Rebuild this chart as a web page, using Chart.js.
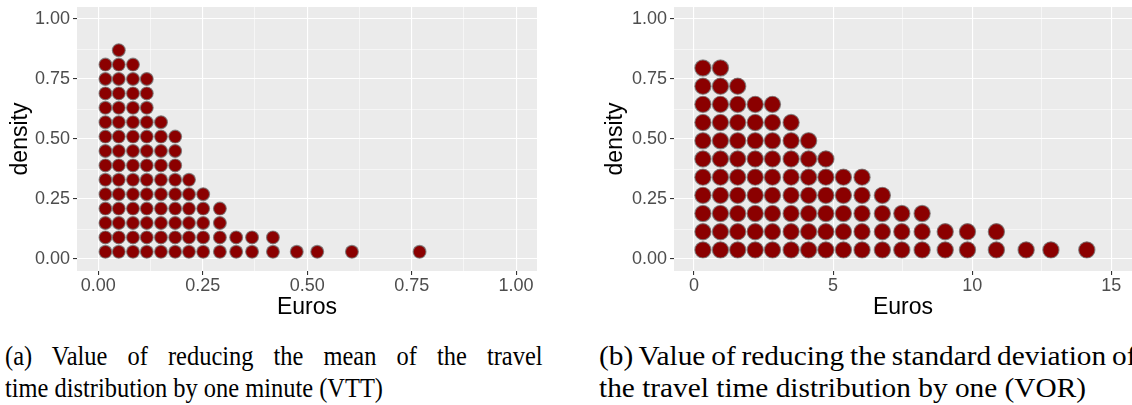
<!DOCTYPE html>
<html>
<head>
<meta charset="utf-8">
<title>VTT / VOR dotplots</title>
<script src="https://cdn.jsdelivr.net/npm/chart.js@4/dist/chart.umd.min.js"></script>
<style>
    html, body { margin: 0; padding: 0; background: #fff; }
    body { width: 1132px; height: 405px; position: relative; overflow: hidden; }
    .panel { position: absolute; top: 0; height: 330px; }
    #panelA { left: 0; width: 560px; }
    #panelB { left: 560px; width: 572px; }
    .cap {
        position: absolute;
        font-family: "Liberation Serif", "DejaVu Serif", serif;
        font-size: 27px;
        line-height: 27px;
        color: #000;
        white-space: nowrap;
        transform-origin: 0 50%;
    }
</style>
</head>
<body>
<div class="panel" id="panelA"><canvas id="chartVTT"></canvas></div>
<div class="panel" id="panelB"><canvas id="chartVOR"></canvas></div>
<div id="captions"></div>

<script>
// ── Data ──────────────────────────────────────────────────────────────────
const densityTicks  = [0, 0.25, 0.5, 0.75, 1];
const densityLabels = ['0.00', '0.25', '0.50', '0.75', '1.00'];

// (a) VTT — bin centres (euros) and number of stacked dots per bin
const vttTicks  = [0, 0.25, 0.5, 0.75, 1];
const vttLabels = ['0.00', '0.25', '0.50', '0.75', '1.00'];
const vttEuros  = [0.017, 0.049, 0.083, 0.116, 0.150, 0.184, 0.217, 0.251, 0.291, 0.330, 0.368, 0.418, 0.475, 0.524, 0.607, 0.769];
const vttCounts = [14, 15, 14, 13, 10, 9, 6, 5, 4, 2, 2, 2, 1, 1, 1, 1];
const vttStack  = 0.06;      // density height of one stacked dot

// (b) VOR
const vorTicks  = [0, 5, 10, 15];
const vorLabels = ['0', '5', '10', '15'];
const vorEuros  = [0.32, 0.95, 1.57, 2.20, 2.82, 3.49, 4.12, 4.74, 5.37, 6.04, 6.77, 7.47, 8.20, 9.03, 9.83, 10.87, 11.94, 12.83, 14.12];
const vorCounts = [11, 11, 10, 9, 9, 8, 7, 6, 5, 5, 4, 3, 3, 2, 2, 2, 1, 1, 1];
const vorStack  = 0.0758;

// sub-captions: first line justified to the column, last line at natural width
const captions = [
    { left: 5,   first: '(a) Value of reducing the mean of the travel',
                 last:  'time distribution by one minute (VTT)',      lastWidth: 378 },
    { left: 599, first: '(b) Value of reducing the standard deviation of',
                 last:  'the travel time distribution by one (VOR)',  lastWidth: 487 }
];
const captionColumn = 538;
const captionTops   = [343, 375];

(function () {
    // ── Helpers ───────────────────────────────────────────────────────────
    const stackDots = (xs, counts, step) => {
        const pts = [];
        xs.forEach((x, i) => {
            for (let k = 0; k < counts[i]; k++) pts.push({ x: x, y: (k + 0.5) * step });
        });
        return pts;
    };

    const panelBg = {
        id: 'panelBg',
        beforeDraw(chart) {
            const a = chart.chartArea, c = chart.ctx;
            c.save();
            c.fillStyle = '#EBEBEB';
            c.fillRect(a.left, a.top, a.right - a.left, a.bottom - a.top);
            c.restore();
        }
    };

    const tickFont  = { family: '"Liberation Sans", Arial, sans-serif', size: 18 };
    const titleFont = { family: '"Liberation Sans", Arial, sans-serif', size: 23 };

    // major ticks carry labels; minor ones sit half way between them
    function ggScale(min, max, major, labels, title, fitSize, titlePad, horizontal) {
        const minor = [];
        for (let i = 0; i < major.length - 1; i++) minor.push((major[i] + major[i + 1]) / 2);
        const all = major.concat(minor).filter(v => v >= min && v <= max).sort((a, b) => a - b);
        const isMajor = v => major.indexOf(v) !== -1;
        return {
            type: 'linear',
            min: min,
            max: max,
            afterBuildTicks: s => { s.ticks = all.map(v => ({ value: v })); },
            afterFit: s => {
                if (horizontal) s.height = fitSize; else s.width = fitSize;
                s.paddingLeft = s.paddingRight = s.paddingTop = s.paddingBottom = 0;
            },
            border: { display: false },
            grid: {
                color: '#FFFFFF',
                lineWidth: ctx => (ctx.tick && isMajor(ctx.tick.value)) ? 1.1 : 0.55,
                drawTicks: true,
                tickLength: 4,
                tickWidth: 1.1,
                tickColor: ctx => (ctx.tick && isMajor(ctx.tick.value)) ? '#333333' : 'rgba(0,0,0,0)'
            },
            ticks: {
                autoSkip: false,
                maxRotation: 0,
                padding: horizontal ? 0 : 3,
                color: '#4D4D4D',
                font: tickFont,
                callback: v => { const i = major.indexOf(v); return i === -1 ? '' : labels[i]; }
            },
            title: {
                display: true,
                text: title,
                color: '#000000',
                font: titleFont,
                padding: horizontal ? { top: 0, bottom: titlePad } : { top: titlePad, bottom: 0 }
            }
        };
    }

    function dotChart(canvasId, pts, radius, xMin, xMax, xTicks, xLabels, yAxisW, yTitlePad, padRight) {
        return new Chart(document.getElementById(canvasId), {
            type: 'scatter',
            data: {
                datasets: [{
                    data: pts,
                    backgroundColor: '#8B0000',
                    borderColor: 'rgba(115,115,115,0.75)',
                    borderWidth: 1.2,
                    pointRadius: radius,
                    pointHoverRadius: radius
                }]
            },
            options: {
                responsive: true,
                maintainAspectRatio: false,
                animation: false,
                layout: { autoPadding: false, padding: { left: 0, top: 7, right: padRight, bottom: 0 } },
                plugins: { legend: { display: false }, tooltip: { enabled: false } },
                scales: {
                    x: ggScale(xMin, xMax, xTicks, xLabels, 'Euros', 59, 8.8, true),
                    y: ggScale(-0.05, 1.05, densityTicks, densityLabels, 'density', yAxisW, yTitlePad, false)
                }
            },
            plugins: [panelBg]
        });
    }

    // ── (a) VTT ───────────────────────────────────────────────────────────
    dotChart('chartVTT', stackDots(vttEuros, vttCounts, vttStack), 6.4,
             -0.051, 1.05, vttTicks, vttLabels, 77, 6.5, 23);

    // ── (b) VOR — panel runs off the right edge of the figure ─────────────
    dotChart('chartVOR', stackDots(vorEuros, vorCounts, vorStack), 8.1,
             -0.72, 15.745, vorTicks, vorLabels, 114, 42.2, 0);

    // ── Captions ──────────────────────────────────────────────────────────
    const meas = document.createElement('canvas').getContext('2d');
    meas.font = '27px "Liberation Serif"';
    const holder = document.getElementById('captions');
    const addLine = (text, left, top, squeeze, spacing) => {
        const d = document.createElement('div');
        d.className = 'cap';
        d.textContent = text;
        d.style.left = left + 'px';
        d.style.top = top + 'px';
        if (spacing) d.style.wordSpacing = spacing.toFixed(2) + 'px';
        d.style.transform = 'scaleX(' + squeeze.toFixed(4) + ')';
        holder.appendChild(d);
    };
    captions.forEach(c => {
        const squeeze = c.lastWidth / meas.measureText(c.last).width;
        const spaces = c.first.split(' ').length - 1;
        const extra = captionColumn / squeeze - meas.measureText(c.first).width;
        addLine(c.first, c.left, captionTops[0], squeeze, extra / spaces);
        addLine(c.last,  c.left, captionTops[1], squeeze, 0);
    });
})();
</script>
</body>
</html>
